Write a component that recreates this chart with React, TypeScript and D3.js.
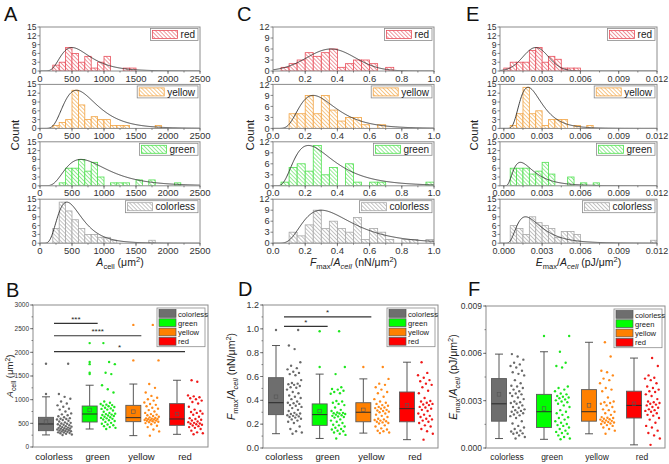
import React from "react";
import * as d3 from "d3";

const FONT = "'Liberation Sans', Arial, Helvetica, sans-serif";

const boxCategories = ["colorless", "green", "yellow", "red"];
const histCategories = ["red", "yellow", "green", "colorless"];

// ---------- Cell area A_cell (µm²) ----------
const areaColorless = [255, 265, 280, 290, 295, 305, 310, 320, 330, 335, 340, 350, 355, 360, 370, 375, 385, 390, 395, 405, 410, 420, 430, 440, 450, 460, 470, 480, 490, 495, 510, 520, 540, 555, 570, 580, 590, 598, 610, 630, 650, 670, 690, 710, 750, 790, 810, 850, 880, 920, 960, 1020, 1060, 1120, 1760];
const areaGreen = [380, 405, 420, 440, 460, 475, 490, 510, 530, 550, 565, 580, 595, 605, 615, 630, 640, 655, 665, 675, 685, 695, 705, 720, 745, 770, 790, 805, 815, 830, 845, 860, 875, 885, 895, 910, 935, 960, 1150, 1220, 1305, 1540, 1570, 1750, 1795, 2195];
const areaYellow = [240, 330, 370, 420, 450, 480, 505, 515, 525, 535, 545, 555, 560, 565, 570, 580, 585, 590, 598, 605, 615, 625, 640, 655, 670, 685, 695, 720, 750, 780, 810, 830, 860, 890, 910, 940, 980, 1010, 1040, 1080, 1150, 1250, 1330, 1830, 2580];
const areaRed = [268, 290, 310, 345, 380, 405, 420, 440, 455, 470, 480, 490, 498, 510, 525, 540, 560, 575, 590, 610, 640, 680, 705, 720, 740, 760, 790, 850, 920, 950, 980, 1010, 1030, 1050, 1070, 1090, 1380, 1410];

// ---------- F_max / A_cell (nN/µm²) ----------
const forceColorless = [0.12, 0.13, 0.14, 0.16, 0.18, 0.21, 0.22, 0.23, 0.24, 0.245, 0.255, 0.26, 0.265, 0.27, 0.275, 0.28, 0.285, 0.29, 0.295, 0.31, 0.32, 0.335, 0.345, 0.355, 0.36, 0.37, 0.375, 0.38, 0.39, 0.41, 0.42, 0.43, 0.44, 0.46, 0.47, 0.49, 0.505, 0.51, 0.52, 0.53, 0.535, 0.54, 0.545, 0.57, 0.61, 0.62, 0.63, 0.64, 0.66, 0.67, 0.69, 0.72, 0.83, 0.86, 0.99];
const forceGreen = [0.08, 0.11, 0.12, 0.13, 0.14, 0.145, 0.155, 0.16, 0.17, 0.18, 0.19, 0.195, 0.21, 0.22, 0.23, 0.24, 0.255, 0.26, 0.265, 0.27, 0.275, 0.28, 0.285, 0.29, 0.292, 0.295, 0.298, 0.31, 0.32, 0.34, 0.36, 0.37, 0.38, 0.39, 0.395, 0.455, 0.46, 0.47, 0.48, 0.49, 0.495, 0.51, 0.62, 0.68, 0.98];
const forceYellow = [0.125, 0.13, 0.14, 0.145, 0.155, 0.165, 0.18, 0.19, 0.205, 0.21, 0.215, 0.22, 0.225, 0.23, 0.235, 0.24, 0.245, 0.26, 0.27, 0.28, 0.29, 0.3, 0.305, 0.31, 0.315, 0.32, 0.33, 0.335, 0.34, 0.345, 0.355, 0.36, 0.37, 0.38, 0.39, 0.41, 0.43, 0.46, 0.47, 0.49, 0.51, 0.53, 0.54, 0.58, 0.68];
const forceRed = [0.07, 0.12, 0.14, 0.16, 0.18, 0.19, 0.21, 0.22, 0.23, 0.24, 0.245, 0.26, 0.27, 0.28, 0.29, 0.31, 0.32, 0.33, 0.34, 0.345, 0.36, 0.365, 0.37, 0.38, 0.39, 0.395, 0.42, 0.46, 0.48, 0.51, 0.53, 0.54, 0.56, 0.57, 0.59, 0.61, 0.63, 0.72];

// ---------- E_max / A_cell (pJ/µm²) ----------
const energyColorless = [0.0006, 0.0007, 0.0008, 0.0009, 0.00093, 0.00097, 0.00105, 0.0011, 0.0012, 0.0013, 0.0014, 0.00155, 0.0017, 0.0019, 0.00202, 0.00207, 0.00212, 0.0022, 0.00225, 0.0023, 0.00235, 0.0024, 0.00245, 0.00255, 0.0026, 0.0027, 0.0028, 0.00285, 0.0029, 0.00295, 0.0031, 0.0032, 0.0033, 0.0034, 0.00345, 0.00348, 0.0036, 0.0037, 0.0038, 0.0039, 0.00395, 0.0041, 0.0043, 0.0046, 0.0047, 0.0048, 0.0049, 0.0051, 0.0052, 0.0053, 0.0054, 0.0056, 0.0058, 0.00595, 0.0117];
const energyGreen = [0.00055, 0.0006, 0.0007, 0.0008, 0.0009, 0.00095, 0.00102, 0.0011, 0.0012, 0.0013, 0.0014, 0.00145, 0.00152, 0.0016, 0.0017, 0.0018, 0.0019, 0.00195, 0.0021, 0.0022, 0.0023, 0.0024, 0.0026, 0.0027, 0.0028, 0.0029, 0.00295, 0.00302, 0.00308, 0.00315, 0.0032, 0.00325, 0.0033, 0.0034, 0.00345, 0.0036, 0.0037, 0.0038, 0.0039, 0.0051, 0.0052, 0.0054, 0.0061, 0.0071];
const energyYellow = [0.0009, 0.0011, 0.0012, 0.0013, 0.0014, 0.00145, 0.00152, 0.00155, 0.0016, 0.00162, 0.00165, 0.0017, 0.00172, 0.00175, 0.0018, 0.00182, 0.00185, 0.0019, 0.00192, 0.00196, 0.0021, 0.0022, 0.0023, 0.0024, 0.00245, 0.0026, 0.0027, 0.0028, 0.00285, 0.0029, 0.00295, 0.0032, 0.0036, 0.0037, 0.0038, 0.0041, 0.0043, 0.0044, 0.0046, 0.0048, 0.0049, 0.0058, 0.0067];
const energyRed = [0.0002, 0.0006, 0.0008, 0.00095, 0.0011, 0.0013, 0.0014, 0.0016, 0.0018, 0.0019, 0.00205, 0.0021, 0.0022, 0.0023, 0.00235, 0.0024, 0.00245, 0.00255, 0.0026, 0.0027, 0.00275, 0.0028, 0.00285, 0.0029, 0.00295, 0.0031, 0.0033, 0.0034, 0.00355, 0.0036, 0.0037, 0.0038, 0.0039, 0.0041, 0.0043, 0.0044, 0.00445, 0.0046, 0.0052, 0.0057];

// ---------- box statistics: [whisker low, Q1, median, Q3, whisker high, mean] ----------
const areaBoxColorless = [255, 345, 486, 627, 1060, 535];
const areaBoxGreen = [380, 528, 697, 866, 1305, 782];
const areaBoxYellow = [240, 535, 620, 880, 1330, 746];
const areaBoxRed = [268, 458, 592, 916, 1410, 697];
const forceBoxColorless = [0.12, 0.28, 0.38, 0.59, 0.86, 0.43];
const forceBoxGreen = [0.08, 0.19, 0.28, 0.37, 0.62, 0.31];
const forceBoxYellow = [0.125, 0.22, 0.3, 0.38, 0.58, 0.32];
const forceBoxRed = [0.07, 0.22, 0.33, 0.47, 0.72, 0.36];
const energyBoxColorless = [0.0006, 0.0017, 0.0028, 0.0044, 0.00595, 0.0034];
const energyBoxGreen = [0.00055, 0.0013, 0.0023, 0.0034, 0.0061, 0.0025];
const energyBoxYellow = [0.0009, 0.0017, 0.0023, 0.0037, 0.0067, 0.0027];
const energyBoxRed = [0.0002, 0.0019, 0.0027, 0.0036, 0.0057, 0.0028];

// ---------- distribution fits (order: red, yellow, green, colorless) ----------
const areaFitKind = ["lognormal", "lognormal", "lognormal", "lognormal"];
const areaFitPeak = [8, 13, 9, 14];
const areaFitCenter = [500, 570, 640, 420];
const areaFitWidth = [0.45, 0.45, 0.5, 0.45];
const forceFitKind = ["normal", "lognormal", "lognormal", "lognormal"];
const forceFitPeak = [6, 9, 11, 9];
const forceFitCenter = [0.36, 0.25, 0.22, 0.3];
const forceFitWidth = [0.15, 0.45, 0.55, 0.5];
const energyFitKind = ["normal", "lognormal", "lognormal", "lognormal"];
const energyFitPeak = [8, 14, 8, 9];
const energyFitCenter = [0.0025, 0.0019, 0.0013, 0.0017];
const energyFitWidth = [0.001, 0.45, 0.6, 0.55];

// ---------- ticks ----------
const areaTicks = [0, 500, 1000, 1500, 2000, 2500];
const forceTicks = [0, 0.2, 0.4, 0.6, 0.8, 1.0];
const energyTicks = [0, 0.003, 0.006, 0.009, 0.012];
const count15Ticks = [0, 3, 6, 9, 12, 15];
const count12Ticks = [0, 3, 6, 9, 12];
const areaBoxTicks = [0, 500, 1000, 1500, 2000, 2500, 3000];
const forceBoxTicks = [0, 0.2, 0.4, 0.6, 0.8, 1.0, 1.2];
const energyBoxTicks = [0, 0.003, 0.006, 0.009];

// ---------- significance ----------
const areaSigTargets = ["green", "yellow", "red"];
const areaSigLevels = [2610, 2350, 2015];
const areaSigStars = ["***", "****", "*"];
const forceSigTargets = ["green", "yellow"];
const forceSigLevels = [1.02, 1.1];
const forceSigStars = ["*", "*"];

// ---------- styles ----------
const histStroke: Record<string, string> = { red: "#e8505c", yellow: "#f2a444", green: "#4ee04e", colorless: "#a8a8a8" };
const histHatch: Record<string, string> = { red: "#ee8a92", yellow: "#f5bf7c", green: "#8aea8a", colorless: "#bdbdbd" };
const boxFill: Record<string, string> = { colorless: "#6e6e6e", green: "#00ff00", yellow: "#ff8000", red: "#ff0000" };
const dotColor: Record<string, string> = { colorless: "#6a6a6a", green: "#1ee61e", yellow: "#ff8a1a", red: "#f01a1a" };

const HIST_TOP = 27;
const HIST_STEP = 57.4;
const HIST_H = 44;

let _ctx: CanvasRenderingContext2D | null = null;
function textWidth(t: string, size: number) {
  if (!_ctx) _ctx = document.createElement("canvas").getContext("2d");
  if (!_ctx) return t.length * size * 0.5;
  _ctx.font = `${size}px 'Liberation Sans', Arial`;
  return _ctx.measureText(t).width;
}

function shape(kind: string, peak: number, center: number, width: number, x: number) {
  if (kind === "normal") return peak * Math.exp(-((x - center) ** 2) / (2 * width * width));
  if (x <= 0) return 0;
  const s2 = width * width;
  const mu = Math.log(center) + s2;
  const L = Math.log(x) - mu;
  return peak * (center / x) * Math.exp(-(L * L - s2 * s2) / (2 * s2));
}

type Part = { t: string; i?: boolean; sub?: boolean; sup?: boolean };
function Rich({ parts, fs }: { parts: Part[]; fs: number }) {
  let cur = 0;
  return (
    <>
      {parts.map((p, k) => {
        const target = p.sub ? fs * 0.28 : p.sup ? -fs * 0.38 : 0;
        const dy = target - cur;
        cur = target;
        return (
          <tspan key={k} dy={dy} fontStyle={p.i ? "italic" : "normal"} fontSize={p.sub || p.sup ? fs * 0.72 : fs}>
            {p.t}
          </tspan>
        );
      })}
    </>
  );
}

const areaLabel: Part[] = [{ t: "A", i: true }, { t: "cell", sub: true }, { t: " (μm" }, { t: "2", sup: true }, { t: ")" }];
const forceLabel: Part[] = [{ t: "F", i: true }, { t: "max", sub: true }, { t: "/" }, { t: "A", i: true }, { t: "cell", sub: true, i: true }, { t: " (nN/μm" }, { t: "2", sup: true }, { t: ")" }];
const energyLabel: Part[] = [{ t: "E", i: true }, { t: "max", sub: true }, { t: "/" }, { t: "A", i: true }, { t: "cell", sub: true, i: true }, { t: " (pJ/μm" }, { t: "2", sup: true }, { t: ")" }];

function HistStack(props: any) {
  const { id, left, right, domain, binStart, ticks, minorStep, fmt, yTicks, binWidth, series, fitKind, fitPeak, fitCenter, fitWidth, countX, title, tickFont, yTickFont } = props;
  const yMax = yTicks[yTicks.length - 1];
  const x = d3.scaleLinear().domain(domain).range([left, right]);
  const nb = Math.round((domain[1] - binStart) / binWidth);
  const thresholds = d3.range(1, nb).map((i) => +(binStart + i * binWidth).toFixed(8));
  const nMinor = Math.round((domain[1] - ticks[0]) / minorStep);
  const minor = d3.range(0, nMinor + 1).map((i) => ticks[0] + i * minorStep);
  const samples = d3.range(0, 301).map((i) => domain[0] + ((domain[1] - domain[0]) * i) / 300);
  return (
    <g>
      {histCategories.map((cat, k) => {
        const top = HIST_TOP + k * HIST_STEP;
        const bottom = top + HIST_H;
        const y = d3.scaleLinear().domain([0, yMax]).range([bottom, top]);
        const bins = d3.bin().domain([binStart, domain[1]]).thresholds(thresholds)(series[k]);
        const line = d3
          .line<number>()
          .x((d) => x(d))
          .y((d) => y(Math.min(shape(fitKind[k], fitPeak[k], fitCenter[k], fitWidth[k], d), yMax * 1.2)))(samples);
        const clipId = `${id}-clip-${k}`;
        const tw = textWidth(cat, 10);
        const lw = 2 + 25 + 3 + tw + 3;
        const lx = right - 2 - lw;
        const ly = top + 1.5;
        return (
          <g key={cat}>
            <clipPath id={clipId}>
              <rect x={left} y={top} width={right - left} height={HIST_H} />
            </clipPath>
            <rect x={left} y={top} width={right - left} height={HIST_H} fill="white" />
            <g clipPath={`url(#${clipId})`}>
              {bins
                .filter((b) => b.length > 0)
                .map((b, i) => (
                  <rect key={i} x={x(b.x0 as number)} y={y(b.length)} width={x(b.x1 as number) - x(b.x0 as number)} height={bottom - y(b.length)} fill={`url(#hatch-${cat})`} stroke={histStroke[cat]} strokeWidth={0.8} />
                ))}
              <path d={line || ""} fill="none" stroke="#303030" strokeWidth={0.9} />
            </g>
            <rect x={left} y={top} width={right - left} height={HIST_H} fill="none" stroke="#8c8c8c" strokeWidth={1} />
            {/* legend */}
            <rect x={lx} y={ly} width={lw} height={12} fill="white" stroke="#8c8c8c" strokeWidth={0.8} />
            <rect x={lx + 2} y={ly + 2} width={25} height={8} fill={`url(#hatch-${cat})`} stroke={histStroke[cat]} strokeWidth={0.8} />
            <text x={lx + 30} y={ly + 9.6} fontSize={10} fill="#222">
              {cat}
            </text>
            {/* y axis */}
            {yTicks.map((t: number) => (
              <g key={t}>
                <line x1={left - 2.5} x2={left} y1={y(t)} y2={y(t)} stroke="#555" strokeWidth={0.7} />
                <text x={left - 3.5} y={y(t) + yTickFont * 0.34} fontSize={yTickFont} textAnchor="end" fill="#333">
                  {t}
                </text>
              </g>
            ))}
            {/* x axis */}
            {minor.map((t: number, i: number) => (
              <line key={"m" + i} x1={x(t)} x2={x(t)} y1={bottom} y2={bottom + 1.5} stroke="#555" strokeWidth={0.7} />
            ))}
            {ticks.map((t: number) => (
              <g key={t}>
                <line x1={x(t)} x2={x(t)} y1={bottom} y2={bottom + 3} stroke="#555" strokeWidth={0.7} />
                <text x={x(t)} y={bottom + 10.5} fontSize={tickFont} textAnchor="middle" fill="#333">
                  {fmt(t)}
                </text>
              </g>
            ))}
          </g>
        );
      })}
      <text transform={`translate(${countX + 4},${(HIST_TOP + HIST_TOP + 3 * HIST_STEP + HIST_H) / 2}) rotate(-90)`} fontSize={11.5} textAnchor="middle" fill="#222">
        Count
      </text>
      <text x={(left + right) / 2} y={266} fontSize={10.5} textAnchor="middle" fill="#222">
        <Rich parts={title} fs={10.5} />
      </text>
    </g>
  );
}

function BoxPanel(props: any) {
  const { left, right, top, bottom, domain, ticks, minorStep, fmt, tickFont, catFont, stats, values, sigTargets, sigLevels, sigStars, title, titleX, titleFont } = props;
  const y = d3.scaleLinear().domain(domain).range([bottom, top]);
  const step = (right - left - 44) / 3;
  const cx = (i: number) => left + 21 + i * step;
  const nMinor = Math.round((domain[1] - domain[0]) / minorStep);
  const minor = d3.range(0, nMinor + 1).map((i) => domain[0] + i * minorStep);
  const inDomain = (v: number) => v >= domain[0] && v <= domain[1];
  const lw = 48;
  const lx = right - 3 - lw;
  const ly = top + 3;
  const rowH = 9.3;
  return (
    <g>
      <rect x={left} y={top} width={right - left} height={bottom - top} fill="white" />
      {boxCategories.map((cat, i) => {
        const s = stats[i];
        const c = cx(i);
        const bx = c - 8;
        const hw = 7.5;
        const vals: number[] = values[i];
        return (
          <g key={cat}>
            <line x1={bx} x2={bx} y1={y(s[0])} y2={y(s[1])} stroke="#444" strokeWidth={0.9} />
            <line x1={bx} x2={bx} y1={y(s[3])} y2={y(s[4])} stroke="#444" strokeWidth={0.9} />
            <line x1={bx - 4} x2={bx + 4} y1={y(s[0])} y2={y(s[0])} stroke="#444" strokeWidth={0.9} />
            <line x1={bx - 4} x2={bx + 4} y1={y(s[4])} y2={y(s[4])} stroke="#444" strokeWidth={0.9} />
            <rect x={bx - hw} y={y(s[3])} width={2 * hw} height={y(s[1]) - y(s[3])} fill={boxFill[cat]} stroke="#5a5a5a" strokeWidth={0.9} />
            <line x1={bx - hw} x2={bx + hw} y1={y(s[2])} y2={y(s[2])} stroke="#2a2a2a" strokeWidth={1} />
            <rect x={bx - 1.8} y={y(s[5]) - 1.8} width={3.6} height={3.6} fill="none" stroke="#555" strokeWidth={0.6} />
            {vals
              .filter((v) => (v < s[0] || v > s[4]) && inDomain(v))
              .map((v, j) => (
                <circle key={"o" + j} cx={bx} cy={y(v)} r={1.2} fill={dotColor[cat]} />
              ))}
            {vals.map((v, j) =>
              inDomain(v) ? <circle key={j} cx={c + 3 + ((j * 0.6180339887 + 0.37) % 1) * 15} cy={y(v)} r={1.2} fill={dotColor[cat]} /> : null
            )}
            <text x={c} y={460} fontSize={catFont} textAnchor="middle" fill="#222">
              {cat}
            </text>
          </g>
        );
      })}
      {sigTargets &&
        sigTargets.map((t: string, k: number) => {
          const x1 = cx(0);
          const x2 = cx(boxCategories.indexOf(t));
          const yy = y(sigLevels[k]);
          return (
            <g key={t}>
              <line x1={x1} x2={x2} y1={yy} y2={yy} stroke="#333" strokeWidth={1.2} />
              <text x={(x1 + x2) / 2} y={yy - 1.5} fontSize={8} textAnchor="middle" fill="#222">
                {sigStars[k]}
              </text>
            </g>
          );
        })}
      <rect x={left} y={top} width={right - left} height={bottom - top} fill="none" stroke="#8c8c8c" strokeWidth={1} />
      {/* legend */}
      <rect x={lx} y={ly} width={lw} height={rowH * 4 + 1.5} fill="white" stroke="#8c8c8c" strokeWidth={0.8} />
      {boxCategories.map((cat, i) => (
        <g key={"l" + cat}>
          <rect x={lx + 2} y={ly + 1.5 + i * rowH} width={17} height={rowH - 1.5} fill={boxFill[cat]} stroke="#555" strokeWidth={0.7} />
          <text x={lx + 21} y={ly + 1.5 + i * rowH + 7} fontSize={7.6} fill="#222">
            {cat}
          </text>
        </g>
      ))}
      {/* y axis */}
      {minor.map((t: number, i: number) => (
        <line key={"m" + i} x1={left - 1.5} x2={left} y1={y(t)} y2={y(t)} stroke="#555" strokeWidth={0.7} />
      ))}
      {ticks.map((t: number) => (
        <g key={t}>
          <line x1={left - 3} x2={left} y1={y(t)} y2={y(t)} stroke="#555" strokeWidth={0.7} />
          <text x={left - 4} y={y(t) + tickFont * 0.35} fontSize={tickFont} textAnchor="end" fill="#333">
            {fmt(t)}
          </text>
        </g>
      ))}
      <text transform={`translate(${titleX + titleFont * 0.35},${(top + bottom) / 2}) rotate(-90)`} fontSize={titleFont} textAnchor="middle" fill="#222">
        <Rich parts={title} fs={titleFont} />
      </text>
    </g>
  );
}

export default function App() {
  const f1 = d3.format(".1f");
  const f3 = d3.format(".3f");
  const fInt = (d: number) => String(d);
  return (
    <svg width={669} height={464} style={{ position: "absolute", left: 0, top: 0, background: "white", fontFamily: FONT }}>
      <defs>
        {histCategories.map((cat) => (
          <pattern key={cat} id={`hatch-${cat}`} patternUnits="userSpaceOnUse" width={2.8} height={2.8} patternTransform="rotate(-45)">
            <rect width={2.8} height={2.8} fill="white" />
            <line x1={1.4} y1={0} x2={1.4} y2={2.8} stroke={histHatch[cat]} strokeWidth={0.9} />
          </pattern>
        ))}
      </defs>
      <rect width={669} height={464} fill="white" />

      <HistStack id="A" left={40} right={200} domain={[0, 2500]} binStart={0} ticks={areaTicks} minorStep={250} fmt={fInt} yTicks={count15Ticks} binWidth={100}
        series={[areaRed, areaYellow, areaGreen, areaColorless]} fitKind={areaFitKind} fitPeak={areaFitPeak} fitCenter={areaFitCenter} fitWidth={areaFitWidth}
        countX={15} title={areaLabel} tickFont={9.5} yTickFont={8.6} />
      <HistStack id="C" left={273} right={434} domain={[0, 1]} binStart={0} ticks={forceTicks} minorStep={0.1} fmt={f1} yTicks={count12Ticks} binWidth={0.05}
        series={[forceRed, forceYellow, forceGreen, forceColorless]} fitKind={forceFitKind} fitPeak={forceFitPeak} fitCenter={forceFitCenter} fitWidth={forceFitWidth}
        countX={250} title={forceLabel} tickFont={9.5} yTickFont={9.2} />
      <HistStack id="E" left={500} right={657} domain={[-0.0003, 0.012]} binStart={0} ticks={energyTicks} minorStep={0.0015} fmt={f3} yTicks={count15Ticks} binWidth={0.0005}
        series={[energyRed, energyYellow, energyGreen, energyColorless]} fitKind={energyFitKind} fitPeak={energyFitPeak} fitCenter={energyFitCenter} fitWidth={energyFitWidth}
        countX={474} title={energyLabel} tickFont={9} yTickFont={8.6} />

      <BoxPanel left={33} right={208} top={305} bottom={447} domain={[0, 3000]} ticks={areaBoxTicks} minorStep={250} fmt={fInt} tickFont={6.5} catFont={9.5}
        stats={[areaBoxColorless, areaBoxGreen, areaBoxYellow, areaBoxRed]} values={[areaColorless, areaGreen, areaYellow, areaRed]}
        sigTargets={areaSigTargets} sigLevels={areaSigLevels} sigStars={areaSigStars} title={areaLabel} titleX={10} titleFont={9.5} />
      <BoxPanel left={263} right={438} top={305} bottom={448} domain={[0, 1.2]} ticks={forceBoxTicks} minorStep={0.1} fmt={f1} tickFont={9} catFont={9.5}
        stats={[forceBoxColorless, forceBoxGreen, forceBoxYellow, forceBoxRed]} values={[forceColorless, forceGreen, forceYellow, forceRed]}
        sigTargets={forceSigTargets} sigLevels={forceSigLevels} sigStars={forceSigStars} title={forceLabel} titleX={231} titleFont={10.5} />
      <BoxPanel left={486} right={665} top={306} bottom={448} domain={[0, 0.009]} ticks={energyBoxTicks} minorStep={0.0015} fmt={f3} tickFont={8.5} catFont={8.5}
        stats={[energyBoxColorless, energyBoxGreen, energyBoxYellow, energyBoxRed]} values={[energyColorless, energyGreen, energyYellow, energyRed]}
        title={energyLabel} titleX={453} titleFont={10.5} />

      {[
        ["A", 4, 21],
        ["C", 237, 21],
        ["E", 466, 21],
        ["B", 6, 297],
        ["D", 238, 296],
        ["F", 468, 296],
      ].map(([l, x, y]) => (
        <text key={l as string} x={x as number} y={y as number} fontSize={20} fill="#111">
          {l}
        </text>
      ))}
    </svg>
  );
}
